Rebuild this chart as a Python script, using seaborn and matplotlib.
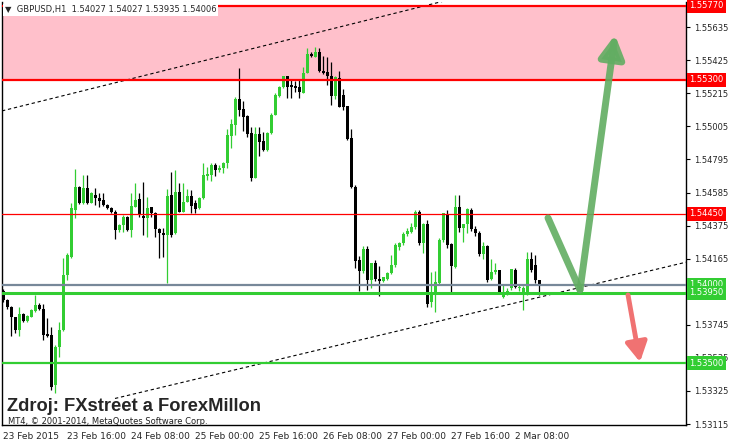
import numpy as np
import pandas as pd
import seaborn as sns
import matplotlib
matplotlib.use("Agg")
import matplotlib.pyplot as plt

sns.set_style("white")
plt.rcParams['font.family'] = ['DejaVu Sans']

# H1 candles, GBPUSD, one per hour from 23 Feb 2015 00:00
opens = [1.53962, 1.53901, 1.53860, 1.53793, 1.53713, 1.53814, 1.53772, 1.53797, 1.53835, 1.53871,
         1.53844, 1.53687, 1.53681, 1.53363, 1.53603, 1.53713, 1.54062, 1.54178, 1.54475, 1.54622,
         1.54517, 1.54612, 1.54521, 1.54570, 1.54549, 1.54538, 1.54506, 1.54485, 1.54464, 1.54348,
         1.54379, 1.54432, 1.54348, 1.54495, 1.54542, 1.54436, 1.54422, 1.54492, 1.54454, 1.54352,
         1.54330, 1.54316, 1.54570, 1.54327, 1.54591, 1.54464, 1.54527, 1.54563, 1.54517, 1.54485,
         1.54549, 1.54690, 1.54697, 1.54760, 1.54729, 1.54739, 1.54771, 1.54944, 1.55014, 1.55179,
         1.55114, 1.55071, 1.54962, 1.54680, 1.54957, 1.54913, 1.54856, 1.54962, 1.55078, 1.55198,
         1.55254, 1.55325, 1.55268, 1.55262, 1.55254, 1.55219, 1.55343, 1.55465, 1.55448, 1.55476,
         1.55359, 1.55353, 1.55327, 1.55200, 1.55311, 1.55205, 1.55135, 1.54930, 1.54619, 1.54157,
         1.54089, 1.54227, 1.54030, 1.54136, 1.54034, 1.54024, 1.54034, 1.54073, 1.54125, 1.54241,
         1.54263, 1.54320, 1.54337, 1.54367, 1.54464, 1.54263, 1.54386, 1.53892, 1.53939, 1.54009,
         1.54284, 1.54443, 1.54257, 1.54114, 1.54495, 1.54362, 1.54384, 1.54475, 1.54352, 1.54328,
         1.54195, 1.54248, 1.54036, 1.54079, 1.54094, 1.53924, 1.53956, 1.53977, 1.54094, 1.53977,
         1.53952, 1.53939, 1.54163, 1.54127, 1.54027]
highs = [1.53971, 1.53907, 1.53867, 1.53797, 1.53860, 1.53819, 1.53808, 1.53844, 1.53935, 1.53882,
         1.53878, 1.53787, 1.53733, 1.53617, 1.53765, 1.54168, 1.54201, 1.54517, 1.54733, 1.54627,
         1.54697, 1.54697, 1.54589, 1.54612, 1.54581, 1.54584, 1.54513, 1.54494, 1.54475, 1.54386,
         1.54443, 1.54436, 1.54584, 1.54644, 1.54581, 1.54654, 1.54559, 1.54494, 1.54462, 1.54360,
         1.54358, 1.54606, 1.54718, 1.54729, 1.54644, 1.54644, 1.54606, 1.54602, 1.54538, 1.54557,
         1.54771, 1.54749, 1.54775, 1.54771, 1.54760, 1.54781, 1.54987, 1.55050, 1.55194, 1.55378,
         1.55169, 1.55078, 1.55003, 1.55003, 1.55003, 1.54972, 1.54972, 1.55089, 1.55216, 1.55262,
         1.55325, 1.55325, 1.55300, 1.55296, 1.55300, 1.55381, 1.55501, 1.55480, 1.55511, 1.55501,
         1.55452, 1.55444, 1.55416, 1.55325, 1.55357, 1.55241, 1.55137, 1.54989, 1.54633, 1.54182,
         1.54246, 1.54246, 1.54136, 1.54157, 1.54119, 1.54051, 1.54083, 1.54189, 1.54263, 1.54273,
         1.54333, 1.54358, 1.54390, 1.54475, 1.54475, 1.54390, 1.54411, 1.54083, 1.54087, 1.54295,
         1.54454, 1.54475, 1.54265, 1.54570, 1.54570, 1.54384, 1.54485, 1.54485, 1.54373, 1.54341,
         1.54273, 1.54252, 1.54163, 1.54136, 1.54094, 1.53998, 1.53979, 1.54100, 1.54106, 1.53998,
         1.53992, 1.54210, 1.54210, 1.54189, 1.54027]
lows = [1.53892, 1.53844, 1.53674, 1.53692, 1.53674, 1.53765, 1.53765, 1.53793, 1.53829, 1.53840,
        1.53649, 1.53670, 1.53332, 1.53314, 1.53539, 1.53706, 1.54030, 1.54170, 1.54422, 1.54513,
        1.54513, 1.54513, 1.54517, 1.54506, 1.54495, 1.54500, 1.54481, 1.54454, 1.54288, 1.54337,
        1.54337, 1.54341, 1.54305, 1.54494, 1.54432, 1.54316, 1.54301, 1.54432, 1.54305, 1.54168,
        1.54178, 1.54013, 1.54301, 1.54322, 1.54462, 1.54462, 1.54525, 1.54454, 1.54454, 1.54481,
        1.54544, 1.54665, 1.54661, 1.54692, 1.54714, 1.54708, 1.54739, 1.54866, 1.54951, 1.55071,
        1.54978, 1.54940, 1.54659, 1.54676, 1.54817, 1.54851, 1.54851, 1.54957, 1.55075, 1.55194,
        1.55249, 1.55184, 1.55184, 1.55226, 1.55184, 1.55216, 1.55343, 1.55448, 1.55444, 1.55353,
        1.55338, 1.55268, 1.55141, 1.55179, 1.55129, 1.55110, 1.54919, 1.54616, 1.54104, 1.53962,
        1.54073, 1.53967, 1.53977, 1.54026, 1.53928, 1.54019, 1.54030, 1.54068, 1.54114, 1.54220,
        1.54252, 1.54311, 1.54327, 1.54354, 1.54252, 1.54200, 1.53860, 1.53860, 1.53829, 1.54005,
        1.54273, 1.54235, 1.53956, 1.54108, 1.54337, 1.54273, 1.54327, 1.54341, 1.54309, 1.54182,
        1.54163, 1.54019, 1.54030, 1.54066, 1.53952, 1.53914, 1.53935, 1.53967, 1.53979, 1.53960,
        1.53840, 1.53935, 1.54083, 1.54011, 1.53935]
closes = [1.53901, 1.53860, 1.53793, 1.53713, 1.53814, 1.53772, 1.53801, 1.53840, 1.53871, 1.53844,
          1.53681, 1.53674, 1.53352, 1.53606, 1.53713, 1.54062, 1.54189, 1.54485, 1.54622, 1.54517,
          1.54612, 1.54517, 1.54581, 1.54549, 1.54532, 1.54506, 1.54485, 1.54464, 1.54348, 1.54379,
          1.54432, 1.54348, 1.54500, 1.54538, 1.54443, 1.54422, 1.54485, 1.54454, 1.54352, 1.54327,
          1.54316, 1.54563, 1.54316, 1.54591, 1.54464, 1.54527, 1.54563, 1.54500, 1.54479, 1.54549,
          1.54697, 1.54703, 1.54760, 1.54729, 1.54739, 1.54775, 1.54951, 1.55021, 1.55179, 1.55110,
          1.55067, 1.54957, 1.54680, 1.54957, 1.54904, 1.54856, 1.54962, 1.55078, 1.55205, 1.55254,
          1.55325, 1.55257, 1.55257, 1.55247, 1.55226, 1.55343, 1.55465, 1.55452, 1.55476, 1.55359,
          1.55343, 1.55325, 1.55200, 1.55321, 1.55130, 1.55130, 1.54925, 1.54622, 1.54153, 1.54089,
          1.54227, 1.54030, 1.54136, 1.54034, 1.54024, 1.54049, 1.54076, 1.54125, 1.54252, 1.54267,
          1.54322, 1.54341, 1.54368, 1.54464, 1.54263, 1.54386, 1.53876, 1.53935, 1.54015, 1.54284,
          1.54454, 1.54252, 1.54121, 1.54495, 1.54362, 1.54384, 1.54481, 1.54352, 1.54328, 1.54195,
          1.54248, 1.54030, 1.54079, 1.54094, 1.53956, 1.53956, 1.53960, 1.54100, 1.53987, 1.53987,
          1.53977, 1.54163, 1.54094, 1.54027, 1.54006]

time_labels = ["23 Feb 2015", "23 Feb 16:00", "24 Feb 08:00", "25 Feb 00:00", "25 Feb 16:00",
               "26 Feb 08:00", "27 Feb 00:00", "27 Feb 16:00", "2 Mar 08:00"]
time_label_bars = [0, 16, 32, 48, 64, 80, 96, 112, 128]
price_ticks = [1.55635, 1.55425, 1.55215, 1.55005, 1.54795, 1.54585, 1.54375, 1.54165,
               1.53745, 1.53535, 1.53325, 1.53115]

zone_top = 1.55770
zone_bottom = 1.55300
resistance = 1.54450
bid_level = 1.54000
support_levels = [1.53950, 1.53500]

upper_channel_bars = [49.25, 81.25]
upper_channel_prices = [1.55416, 1.55618]
lower_channel_bars = [110.9, 141.75]
lower_channel_prices = [1.53780, 1.53967]

up_arrow_bars = [136.25, 144.25, 153.0]
up_arrow_prices = [1.54424, 1.53967, 1.55586]
down_arrow_bars = [156.25, 159.25]
down_arrow_prices = [1.53935, 1.53509]

GREEN = '#32cd32'

df = pd.DataFrame({'open': opens, 'high': highs, 'low': lows, 'close': closes})
df['bar'] = np.arange(len(df))
df['bull'] = df['close'] >= df['open']
colors = np.where(df['bull'], GREEN, 'black')

fig = plt.figure(figsize=(7.29, 4.45), dpi=100)
ax = fig.add_axes([2 / 729, 20 / 445, 684 / 729, 423 / 445])
ax.set_xlim(-0.25, 170.75)
ax.set_ylim(1.53109, 1.55795)

# supply zone
ax.axhspan(zone_bottom, zone_top, color='#ffc0cb', lw=0, zorder=0)

# candles
ax.vlines(df['bar'], df['low'], df['high'], colors=colors, lw=0.9, zorder=3)
body = np.maximum((df['close'] - df['open']).abs(), 0.00007)
ax.bar(df['bar'], body, bottom=np.minimum(df['open'], df['close']), width=0.75,
       color=colors, linewidth=0, zorder=4)

# channel
def channel(bars, prices, start, end):
    k = (prices[1] - prices[0]) / (bars[1] - bars[0])
    xs = np.array([start, end])
    return xs, prices[0] + k * (xs - bars[0])

xs, ys = channel(upper_channel_bars, upper_channel_prices, -0.25, 170.75)
ax.plot(xs, ys, color='black', lw=0.8, ls=(0, (3, 2.5)), zorder=5)
xs, ys = channel(lower_channel_bars, lower_channel_prices, 28, 170.75)
ax.plot(xs, ys, color='black', lw=0.8, ls=(0, (3, 2.5)), zorder=5)

# horizontal levels
ax.axhline(zone_top, color='red', lw=1.6, zorder=6)
ax.axhline(zone_bottom, color='red', lw=1.6, zorder=6)
ax.axhline(resistance, color='red', lw=0.9, zorder=6)
ax.axhline(bid_level, color='#778899', lw=1.6, zorder=6)
ax.axhline(support_levels[0], color=GREEN, lw=2.2, zorder=6)
ax.axhline(support_levels[1], color=GREEN, lw=1.6, zorder=6)

# arrows
ax.plot(up_arrow_bars[:2], up_arrow_prices[:2], color='#62ad62', lw=5,
        solid_capstyle='round', alpha=0.9, zorder=7)
ax.annotate('', xy=(up_arrow_bars[2], up_arrow_prices[2]),
            xytext=(up_arrow_bars[1], up_arrow_prices[1]),
            arrowprops=dict(arrowstyle='-|>,head_length=0.9,head_width=0.5', lw=5,
                            color='#62ad62', alpha=0.9, mutation_scale=15,
                            shrinkA=0, shrinkB=0), zorder=7)
ax.annotate('', xy=(down_arrow_bars[1], down_arrow_prices[1]),
            xytext=(down_arrow_bars[0], down_arrow_prices[0]),
            arrowprops=dict(arrowstyle='-|>,head_length=0.9,head_width=0.5', lw=3.5,
                            color='#f07272', mutation_scale=13,
                            shrinkA=0, shrinkB=0), zorder=7)

# axes styling
ax.spines['top'].set_visible(False)
for side in ['left', 'right', 'bottom']:
    ax.spines[side].set_color('black')
    ax.spines[side].set_linewidth(1.0)

ax.yaxis.tick_right()
ax.set_yticks(price_ticks)
ax.set_yticklabels([f"{v:.5f}" for v in price_ticks])
ax.set_xticks(time_label_bars)
ax.set_xticklabels(time_labels, ha='left')
ax.tick_params(axis='both', length=3, width=0.8, color='black', direction='out', pad=2)
ax.tick_params(axis='x', labelsize=6.5)
ax.tick_params(axis='y', labelsize=6, pad=2.5)
ax.grid(False)

# price boxes on the scale
ytr = ax.get_yaxis_transform()
boxes = [(zone_top, 'red'), (zone_bottom, 'red'), (resistance, 'red'),
         (bid_level, GREEN), (support_levels[0], GREEN), (support_levels[1], GREEN)]
for level, col in boxes:
    ax.text(1.005, level, f"{level:.5f}", transform=ytr, color='white', fontsize=6,
            va='center', ha='left', clip_on=False, zorder=10,
            bbox=dict(boxstyle='square,pad=0.3', fc=col, ec='none'))

ax.text(0.004, 0.992, "\u25bc  GBPUSD,H1  1.54027 1.54027 1.53935 1.54006",
        transform=ax.transAxes, va='top', ha='left', fontsize=6, zorder=10,
        bbox=dict(boxstyle='square,pad=0.2', fc='white', ec='none'))

fig.text(7 / 729, 1 - 411 / 445, "Zdroj: FXstreet a ForexMillon", fontsize=13.2,
         fontweight='bold', family=['Liberation Sans', 'DejaVu Sans'], va='baseline')
fig.text(8 / 729, 1 - 421.5 / 445, "MT4, \u00a9 2001-2014, MetaQuotes Software Corp.",
         fontsize=6, va='center', color='#202020')

fig.savefig('out.png', dpi=100)
